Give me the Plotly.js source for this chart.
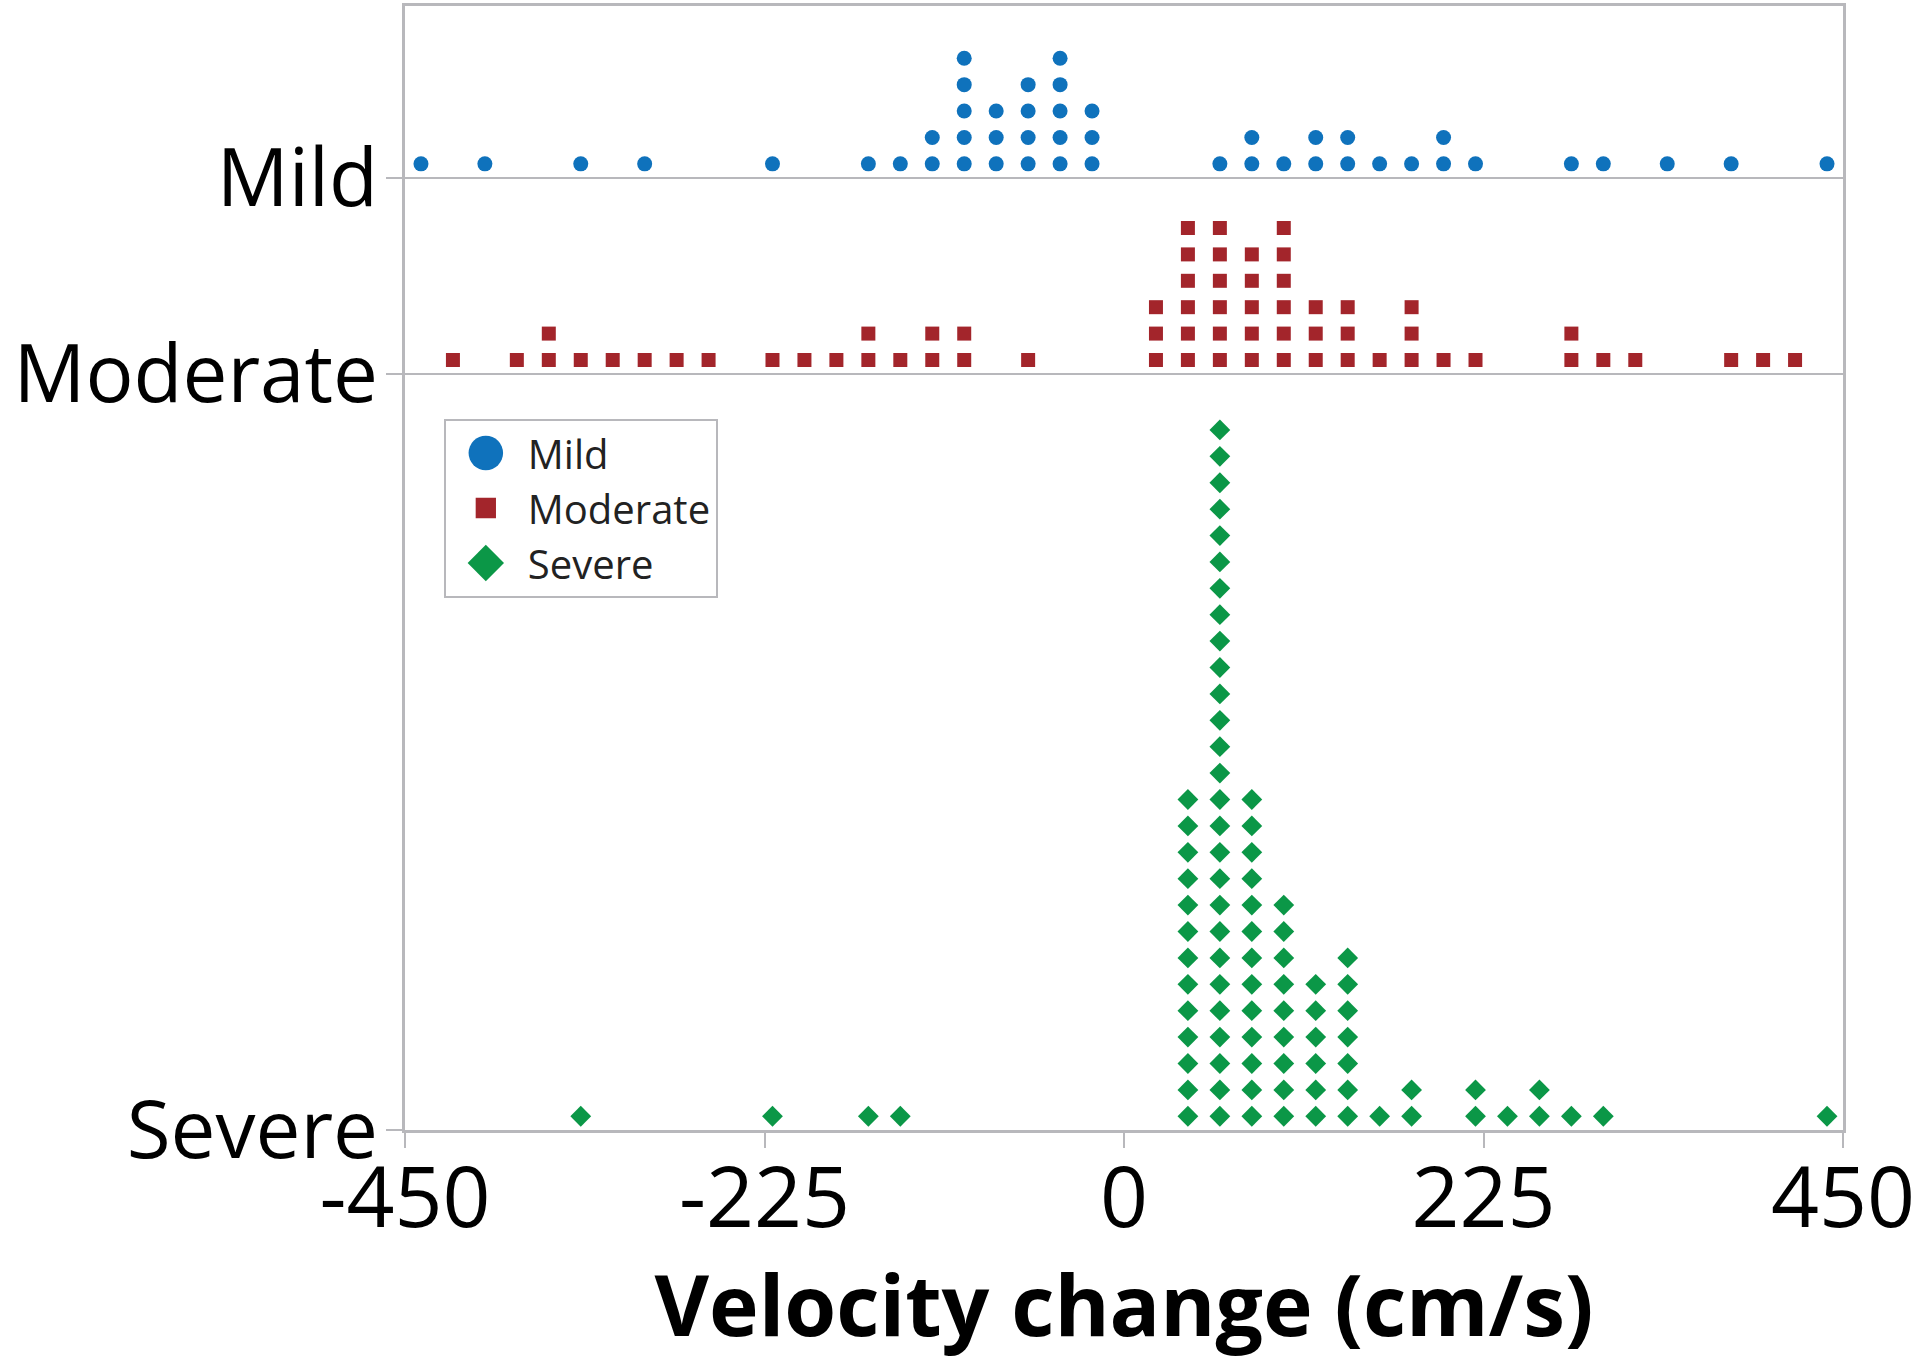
<!DOCTYPE html>
<html>
<head>
<meta charset="utf-8">
<script src="https://cdn.plot.ly/plotly-3.0.1.min.js"></script>
<style>
  html, body { margin: 0; padding: 0; background: #fff; }
  #plot { width: 1920px; height: 1361px; }
</style>
</head>
<body>
<div id="plot"></div>
<script>
// dot plot data: bin centre (cm/s) and number of stacked dots in that bin
const categories = ['Mild', 'Moderate', 'Severe'];

const mildBins   = [-440, -400, -340, -300, -220, -160, -140, -120, -100, -80, -60, -40, -20, 60, 80, 100, 120, 140, 160, 180, 200, 220, 280, 300, 340, 380, 440];
const mildCounts = [1, 1, 1, 1, 1, 1, 1, 2, 5, 3, 4, 5, 3, 1, 2, 1, 2, 2, 1, 1, 2, 1, 1, 1, 1, 1, 1];

const moderateBins   = [-420, -380, -360, -340, -320, -300, -280, -260, -220, -200, -180, -160, -140, -120, -100, -60, 20, 40, 60, 80, 100, 120, 140, 160, 180, 200, 220, 280, 300, 320, 380, 400, 420];
const moderateCounts = [1, 1, 2, 1, 1, 1, 1, 1, 1, 1, 1, 2, 1, 2, 2, 1, 3, 6, 6, 5, 6, 3, 3, 1, 3, 1, 1, 2, 1, 1, 1, 1, 1];

const severeBins   = [-340, -220, -160, -140, 40, 60, 80, 100, 120, 140, 160, 180, 220, 240, 260, 280, 300, 440];
const severeCounts = [1, 1, 1, 1, 13, 27, 13, 9, 6, 7, 1, 2, 2, 1, 2, 1, 1, 1];

const xTicks = [-450, -225, 0, 225, 450];

// layout of the rows (in "dot" units, one unit = one stacked dot)
const rowBase = {Mild: 36.08, Moderate: 28.65, Severe: 0};
const yTop = 42.58;
const firstDot = 0.52;

function stack(bins, counts, base) {
  const x = [], y = [];
  bins.forEach((b, i) => {
    for (let k = 0; k < counts[i]; k++) {
      x.push(b);
      y.push(base + firstDot + k);
    }
  });
  return {x, y};
}

const mild = stack(mildBins, mildCounts, rowBase.Mild);
const moderate = stack(moderateBins, moderateCounts, rowBase.Moderate);
const severe = stack(severeBins, severeCounts, rowBase.Severe);

const traces = [
  {name: 'Mild', x: mild.x, y: mild.y, type: 'scatter', mode: 'markers',
   marker: {symbol: 'circle', size: 15, color: '#0f72bc'}},
  {name: 'Moderate', x: moderate.x, y: moderate.y, type: 'scatter', mode: 'markers',
   marker: {symbol: 'square', size: 14, color: '#a3252b'}},
  {name: 'Severe', x: severe.x, y: severe.y, type: 'scatter', mode: 'markers',
   marker: {symbol: 'diamond', size: 16, color: '#0b9747'}},
];

// the legend symbols in the reference are drawn much larger than the dots
const legendScale = [2.3, 1.45, 1.75];

const axisGray = '#b8b8bc';

Plotly.newPlot('plot', traces, {
  width: 1920,
  height: 1361,
  margin: {l: 405, r: 77, t: 6, b: 231},
  paper_bgcolor: '#fff',
  plot_bgcolor: '#fff',
  font: {family: '"Open Sans", "Noto Sans", sans-serif', color: '#000'},
  showlegend: true,
  legend: {
    x: 0.027, y: 0.633, xanchor: 'left', yanchor: 'top',
    bordercolor: axisGray, borderwidth: 2, bgcolor: '#fff',
    font: {size: 40, color: '#222'},
    itemwidth: 72,
    itemsizing: 'trace',
    tracegroupgap: 0,
  },
  xaxis: {
    range: [-450, 450],
    tickvals: xTicks,
    ticktext: xTicks.map(String),
    ticks: 'outside', ticklen: 15, tickwidth: 2, tickcolor: axisGray,
    tickfont: {size: 84},
    ticklabelstandoff: -22,
    showline: true, linecolor: axisGray, linewidth: 3, mirror: true,
    showgrid: false, zeroline: false,
    title: {text: '<b>Velocity change (cm/s)</b>', font: {size: 84}, standoff: 34},
  },
  yaxis: {
    range: [0, yTop],
    tickvals: categories.map(c => rowBase[c]),
    ticktext: categories,
    ticks: 'outside', ticklen: 16, tickwidth: 2, tickcolor: axisGray,
    tickfont: {size: 80},
    ticklabelstandoff: -8,
    showline: true, linecolor: axisGray, linewidth: 3, mirror: true,
    showgrid: true, gridcolor: axisGray, gridwidth: 2,
    zeroline: false,
  },
}, {staticPlot: true}).then(gd => {
  gd.querySelectorAll('.legend .traces').forEach((g, i) => {
    const pt = g.querySelector('.legendpoints path');
    if (pt) pt.setAttribute('transform', 'translate(40,0) scale(' + legendScale[i] + ')');
  });
});
</script>
</body>
</html>
